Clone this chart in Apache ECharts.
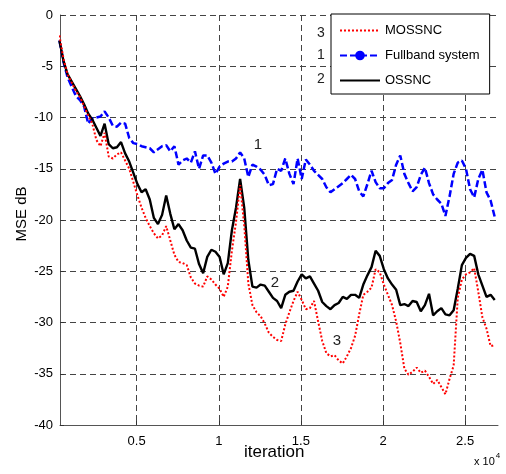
<!DOCTYPE html>
<html>
<head>
<meta charset="utf-8">
<script src="https://cdn.jsdelivr.net/npm/echarts@6/dist/echarts.min.js"></script>
<style>
    html, body { margin: 0; padding: 0; background: #fff; }
    #main { width: 506px; height: 474px; }
</style>
</head>
<body>
<div id="main"></div>
<script>
    // samples, one every 250 iterations from 300
    const iterStart = 300;
    const iterStep = 250;

    const xTicks = [0.5, 1, 1.5, 2, 2.5];   // x 10^4

    const fullband = [-2.5, -4.6, -6.1, -7.0, -7.9, -8.3, -8.9, -10.6, -10.1, -10.0, -9.9, -9.4, -10.0, -10.8, -10.9, -10.5, -10.6, -12.0, -12.5, -12.6,
        -12.8, -12.9, -13.0, -13.4, -13.1, -12.8, -12.7, -13.3, -12.8, -14.6, -14.2, -14.0, -14.4, -13.3, -15.0, -13.7, -13.7, -14.4, -15.5, -14.8,
        -14.5, -14.3, -14.3, -14.0, -13.4, -14.0, -15.8, -14.6, -14.8, -15.1, -15.6, -16.6, -16.5, -15.0, -15.2, -14.0, -15.5, -16.5, -14.0, -16.0,
        -14.1, -14.6, -15.2, -15.6, -16.0, -16.8, -17.3, -17.0, -16.7, -16.4, -16.0, -15.6, -16.0, -17.2, -17.7, -16.5, -15.2, -16.3, -16.9, -16.9,
        -16.4, -16.1, -14.6, -13.7, -15.5, -16.4, -17.2, -16.8, -15.6, -14.9, -16.4, -17.5, -18.0, -18.4, -19.6, -17.7, -15.5, -14.4, -14.2, -15.0,
        -17.0, -17.8, -16.0, -15.1, -17.3, -18.1, -19.7];

    const ossnc = [-2.5, -4.5, -5.8, -6.5, -7.2, -7.9, -8.7, -9.6, -10.2, -11.0, -11.8, -10.6, -12.6, -13.0, -12.9, -12.4, -13.5, -14.3, -15.4, -16.5,
        -17.3, -17.0, -18.0, -19.8, -20.4, -19.5, -17.6, -19.4, -20.9, -20.4, -21.0, -22.0, -22.7, -22.8, -24.3, -25.2, -23.6, -22.9, -23.1, -23.6,
        -25.3, -24.2, -21.0, -18.8, -16.0, -18.8, -23.9, -26.5, -26.6, -26.3, -26.4, -27.0, -27.6, -27.9, -28.6, -27.3, -27.0, -26.9, -26.0, -25.3,
        -25.7, -25.5, -26.2, -26.9, -28.0, -28.4, -28.7, -28.3, -28.1, -27.5, -27.7, -27.3, -27.3, -27.6, -26.3, -25.4, -24.6, -23.0, -23.5, -24.8,
        -25.7, -26.3, -26.8, -28.3, -28.2, -28.4, -27.9, -28.0, -28.9, -28.3, -27.2, -29.3, -28.9, -28.6, -29.2, -29.3, -28.8, -26.7, -24.4, -23.7,
        -23.3, -23.5, -25.3, -26.4, -27.5, -27.3, -27.8];

    const mossnc = [-2.0, -4.3, -5.8, -6.6, -7.4, -8.0, -8.9, -9.8, -10.6, -12.2, -12.8, -11.5, -13.8, -14.0, -13.6, -13.4, -14.2, -15.0, -16.3, -17.6,
        -18.8, -19.8, -20.6, -21.3, -21.8, -21.5, -20.6, -22.0, -23.4, -24.1, -24.2, -24.4, -25.6, -26.2, -26.4, -26.5, -25.5, -25.8, -26.3, -26.7,
        -27.5, -26.5, -23.0, -20.2, -16.6, -20.5, -26.2, -28.3, -29.0, -29.4, -30.1, -31.0, -31.4, -31.7, -31.8, -30.2, -29.0, -27.9, -27.0, -27.8,
        -28.7, -28.6, -27.9, -29.9, -31.8, -33.0, -33.3, -33.2, -33.7, -34.0, -33.3, -32.5, -31.3, -29.2, -27.3, -27.0, -26.6, -24.8, -25.1, -26.3,
        -27.3, -28.3, -29.9, -32.0, -34.5, -35.1, -34.8, -34.4, -34.9, -34.7, -35.3, -36.0, -35.6, -36.3, -37.0, -35.5, -34.2, -27.6, -25.8, -25.3,
        -25.1, -24.7, -27.0, -29.5, -30.6, -32.3, -32.2];

    const font = "'Liberation Sans', Arial, sans-serif";

    function pairs(values) {
        return values.map((v, i) => [(iterStart + i * iterStep) / 10000, v]);
    }

    const gridDash = { type: [6, 4], color: '#444', width: 1 };

    let option = {
        animation: false,
        backgroundColor: '#fff',
        textStyle: { fontFamily: font, color: '#000' },
        grid: { left: 60, right: 8, top: 15, bottom: 49 },
        legend: {
            orient: 'vertical',
            left: 331,
            top: 14,
            padding: [10, 10, 7, 8],
            itemGap: 12,
            itemWidth: 40,
            itemHeight: 12,
            backgroundColor: '#fff',
            borderColor: '#000',
            borderWidth: 1,
            borderRadius: 0,
            textStyle: { fontSize: 13, color: '#000', fontFamily: font },
            data: [
                { name: 'MOSSNC', itemStyle: { opacity: 0 } },
                { name: 'Fullband system' },
                { name: 'OSSNC', itemStyle: { opacity: 0 } }
            ]
        },
        xAxis: {
            type: 'value',
            min: 0.0335,
            max: 2.7,
            axisLine: { show: true, onZero: false, lineStyle: { color: '#555', width: 1 } },
            axisTick: { show: true, inside: true, length: 4, customValues: xTicks, lineStyle: { color: '#333' } },
            axisLabel: { customValues: xTicks, fontSize: 13, color: '#000', margin: 10, fontFamily: font },
            splitLine: { show: true, lineStyle: gridDash }
        },
        yAxis: {
            type: 'value',
            min: -40,
            max: 0,
            interval: 5,
            axisLine: { show: true, lineStyle: { color: '#555', width: 1 } },
            axisTick: { show: true, inside: true, length: 4, lineStyle: { color: '#333' } },
            axisLabel: { fontSize: 13, color: '#000', margin: 7, fontFamily: font },
            splitLine: { show: true, lineStyle: gridDash }
        },
        graphic: [
            { type: 'text', left: 244, top: 444, style: { text: 'iteration', fontSize: 17, fill: '#000', fontFamily: font } },
            { type: 'text', x: 22, y: 214, rotation: Math.PI / 2,
              style: { text: 'MSE dB', fontSize: 15, fill: '#000', fontFamily: font, align: 'center', verticalAlign: 'middle' } },
            { type: 'text', left: 474, top: 452,
              style: { text: '{a|x 10}{b|4}', rich: { a: { fontSize: 11, fontFamily: font, padding: [6, 0, 0, 0] }, b: { fontSize: 8, fontFamily: font, padding: [0, 0, 6, 1] } } } },
            // curve labels
            { type: 'text', x: 258, y: 145, style: { text: '1', fontSize: 15, fill: '#222', fontFamily: font, align: 'center', verticalAlign: 'middle' } },
            { type: 'text', x: 275, y: 283, style: { text: '2', fontSize: 15, fill: '#222', fontFamily: font, align: 'center', verticalAlign: 'middle' } },
            { type: 'text', x: 337, y: 341, style: { text: '3', fontSize: 15, fill: '#222', fontFamily: font, align: 'center', verticalAlign: 'middle' } },
            { type: 'text', x: 321, y: 33, style: { text: '3', fontSize: 14, fill: '#222', fontFamily: font, align: 'center', verticalAlign: 'middle' } },
            { type: 'text', x: 321, y: 55, style: { text: '1', fontSize: 14, fill: '#222', fontFamily: font, align: 'center', verticalAlign: 'middle' } },
            { type: 'text', x: 321, y: 79, style: { text: '2', fontSize: 14, fill: '#222', fontFamily: font, align: 'center', verticalAlign: 'middle' } }
        ],
        series: [
            {
                name: 'Fullband system',
                type: 'line',
                data: pairs(fullband),
                symbol: 'circle',
                symbolSize: 5,
                showSymbol: false,
                itemStyle: { color: '#0000ff' },
                lineStyle: { color: '#0000ff', width: 2.5, type: [7, 3] },
                z: 2
            },
            {
                name: 'OSSNC',
                type: 'line',
                data: pairs(ossnc),
                symbol: 'none',
                itemStyle: { color: '#000' },
                lineStyle: { color: '#000', width: 2.4 },
                z: 3
            },
            {
                name: 'MOSSNC',
                type: 'line',
                data: pairs(mossnc),
                symbol: 'none',
                itemStyle: { color: '#ff0000' },
                lineStyle: { color: '#ff0000', width: 2, type: [2, 2] },
                z: 4
            }
        ]
    };

    var chart = echarts.init(document.getElementById('main'));
    chart.setOption(option);
</script>
</body>
</html>
